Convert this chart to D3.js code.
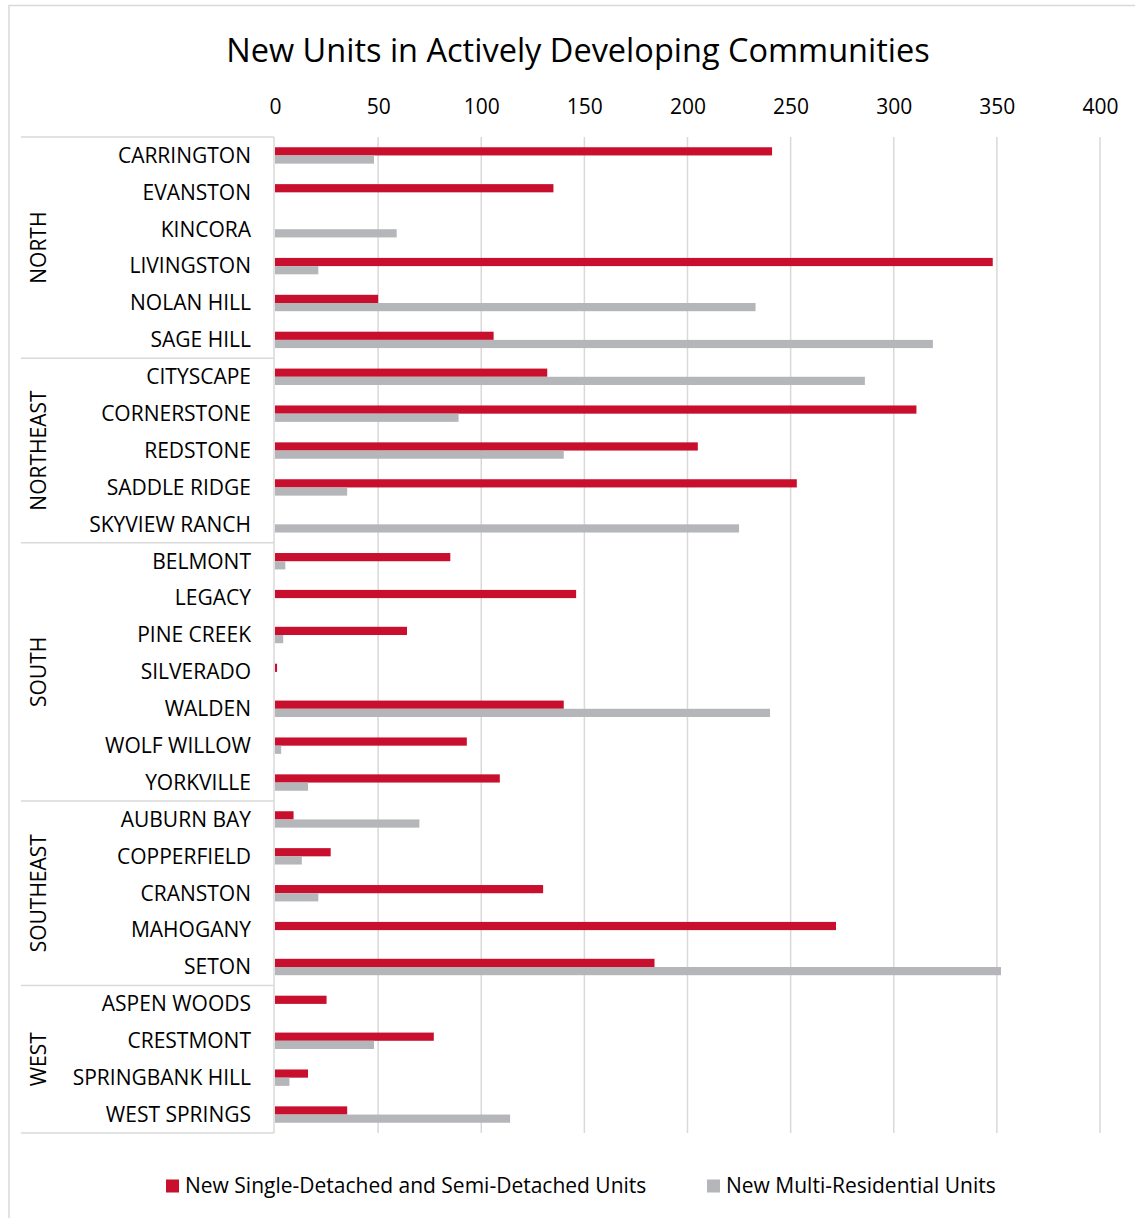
<!DOCTYPE html>
<html><head><meta charset="utf-8">
<script src="https://cdn.jsdelivr.net/npm/d3@7"></script>
<style>body{margin:0;background:#fff}svg{display:block}</style>
</head><body>
<script>
const groups = ["NORTH","NORTHEAST","SOUTH","SOUTHEAST","WEST"];
const groupSizes = [6,5,7,5,4];
const communities = ["CARRINGTON","EVANSTON","KINCORA","LIVINGSTON","NOLAN HILL","SAGE HILL",
  "CITYSCAPE","CORNERSTONE","REDSTONE","SADDLE RIDGE","SKYVIEW RANCH",
  "BELMONT","LEGACY","PINE CREEK","SILVERADO","WALDEN","WOLF WILLOW","YORKVILLE",
  "AUBURN BAY","COPPERFIELD","CRANSTON","MAHOGANY","SETON",
  "ASPEN WOODS","CRESTMONT","SPRINGBANK HILL","WEST SPRINGS"];
const singleDetached = [241,135,0,348,50,106, 132,311,205,253,0, 85,146,64,1,140,93,109, 9,27,130,272,184, 25,77,16,35];
const multiResidential = [48,0,59,21,233,319, 286,89,140,35,225, 5,0,4,0,240,3,16, 70,13,21,0,352, 0,48,7,114];
const xTicks = [0,50,100,150,200,250,300,350,400];
const seriesNames = ["New Single-Detached and Semi-Detached Units","New Multi-Residential Units"];
const colors = ["#C8102E","#B4B6B9"];
const title = "New Units in Actively Developing Communities";

const W=1135,H=1218;
const svg=d3.select("body").append("svg").attr("width",W).attr("height",H);
const font="'Open Sans', sans-serif";
const fs=21;

// outer border
svg.append("path").attr("d","M9,1218 V5.5 H1135").attr("fill","none").attr("stroke","#d9d9d9").attr("stroke-width",1.5);

const x=d3.scaleLinear().domain([0,400]).range([275,1100]);
const y=d3.scaleBand().domain(communities).range([137,1133]);
const sub=d3.scaleBand().domain([0,1]).range([0,y.bandwidth()]).paddingOuter(1.25).paddingInner(0);

// gridlines
svg.append("g").selectAll("line").data(xTicks.slice(1)).join("line")
  .attr("x1",d=>x(d)).attr("x2",d=>x(d)).attr("y1",137).attr("y2",1133)
  .attr("stroke","#d9d9d9").attr("stroke-width",1.5);

// axis
const ax=svg.append("g").attr("transform","translate(0,107)")
  .call(d3.axisTop(x).tickValues(xTicks).tickSize(0).tickPadding(0));
ax.select(".domain").remove();
ax.selectAll("text").attr("font-family",font).attr("font-size",fs).attr("fill","#000").attr("dy","0.35em");

// bars
const series=[singleDetached,multiResidential];
series.forEach((vals,si)=>{
  svg.append("g").selectAll("rect").data(communities).join("rect")
    .attr("x",x(0)).attr("y",d=>y(d)+sub(si))
    .attr("width",(d,i)=>x(vals[i])-x(0)).attr("height",sub.bandwidth())
    .attr("fill",colors[si]);
});

// label table lines
svg.append("line").attr("x1",274).attr("x2",274).attr("y1",137).attr("y2",1133).attr("stroke","#d9d9d9").attr("stroke-width",1.5);
let idx=0; const bounds=[0];
groupSizes.forEach(s=>{idx+=s;bounds.push(idx);});
const by=d=>d<communities.length?y(communities[d]):y.range()[1];
svg.append("g").selectAll("line").data(bounds).join("line")
  .attr("x1",21).attr("x2",274).attr("y1",by).attr("y2",by)
  .attr("stroke","#d9d9d9").attr("stroke-width",1.5);

// category labels
svg.append("g").selectAll("text").data(communities).join("text")
  .attr("x",251).attr("y",d=>y(d)+y.bandwidth()/2).attr("dy","0.35em")
  .attr("text-anchor","end").attr("font-family",font).attr("font-size",fs).attr("fill","#000").text(d=>d);

// group labels
svg.append("g").selectAll("text").data(groups).join("text")
  .attr("transform",(d,i)=>`translate(39,${(by(bounds[i])+by(bounds[i+1]))/2}) rotate(-90)`)
  .attr("dy","0.35em").attr("text-anchor","middle").attr("font-family",font).attr("font-size",fs).attr("fill","#000").text(d=>d);

// title
svg.append("text").attr("x",578).attr("y",50.5).attr("dy","0.35em").attr("text-anchor","middle")
  .attr("font-family",font).attr("font-size",32.5).attr("fill","#000").text(title);

// legend
const legX=[166,707];
const lg=svg.append("g").selectAll("g").data(seriesNames).join("g").attr("transform",(d,i)=>`translate(${legX[i]},1186)`);
lg.append("rect").attr("x",0).attr("y",-6.5).attr("width",13).attr("height",13).attr("fill",(d,i)=>colors[i]);
lg.append("text").attr("x",19).attr("y",0).attr("dy","0.35em").attr("font-family",font).attr("font-size",fs).attr("fill","#000").text(d=>d);
</script>
</body></html>
